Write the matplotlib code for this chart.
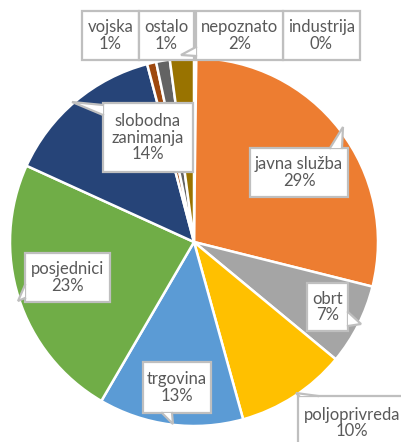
import matplotlib
matplotlib.use("Agg")
import matplotlib.pyplot as plt
from matplotlib.patches import Rectangle, Polygon
from matplotlib.lines import Line2D

categories = ["industrija", "javna služba", "obrt", "poljoprivreda", "trgovina",
              "posjednici", "slobodna\nzanimanja", "vojska", "ostalo", "nepoznato"]
values = [0.2, 28.7, 7.1, 9.7, 12.7, 23.4, 14.1, 0.8, 1.2, 2.1]
colors = ["#4472C4", "#ED7D31", "#A5A5A5", "#FFC000", "#5B9BD5",
          "#70AD47", "#264478", "#9E480E", "#636363", "#997300"]

W, H = 401, 442
fig = plt.figure(figsize=(W / 100, H / 100), dpi=100)
ax = fig.add_axes([0, 0, 1, 1])

cx, cy, r = 194, 242, 184
# y axis inverted below: start at top, go clockwise
ax.pie(values, colors=colors, center=(cx, cy), radius=r,
       startangle=-90, counterclock=True, frame=True,
       wedgeprops=dict(edgecolor="white", linewidth=1.8))
ax.set_xlim(0, W)
ax.set_ylim(H, 0)
ax.set_aspect("equal")
ax.axis("off")

# callout layout: box (x0, y0, x1, y1), pointer (base1, base2, tip)
layout = {
    "industrija": ((283, 11, 360, 60), None),
    "javna služba": ((250, 148, 348, 197), ((330, 148), (342, 148), (343, 127))),
    "obrt": ((307, 283, 348, 331), ((348, 312), (348, 326), (361, 324))),
    "poljoprivreda": ((298, 396, 420, 460), ((299, 396), (318, 396), (296, 393))),
    "trgovina": ((143, 362, 211, 413), ((162, 413), (172, 413), (173, 424))),
    "posjednici": ((25, 253, 110, 302), ((25, 285), (25, 298), (18, 301))),
    "slobodna\nzanimanja": ((103, 103, 193, 172), ((103, 105), (103, 115), (72, 102))),
    "vojska": ((82, 11, 139, 60), None),
    "ostalo": ((139, 11, 194, 60), None),
    "nepoznato": ((196, 11, 283, 60), ((196, 47), (196, 56), (181, 55))),
}
text_centers = {
    "poljoprivreda": (352, 423),
}

tc = "#595959"
ec = "#BFBFBF"
lw = 1.6
for cat, val in zip(categories, values):
    (x0, y0, x1, y1), ptr = layout[cat]
    ax.add_patch(Rectangle((x0, y0), x1 - x0, y1 - y0, fc="white", ec=ec,
                           lw=lw, zorder=5, clip_on=False))
    if ptr is not None:
        b1, b2, tip = ptr
        ax.add_patch(Polygon([b1, tip, b2], closed=True, fc="white", ec="none",
                             zorder=6, clip_on=False))
        ax.add_line(Line2D([b1[0], tip[0], b2[0]], [b1[1], tip[1], b2[1]],
                           color=ec, lw=lw, zorder=6, solid_joinstyle="miter"))
    tx, ty = text_centers.get(cat, ((x0 + x1) / 2, (y0 + y1) / 2))
    label = f"{cat}\n{round(val):d}%"
    ax.text(tx, ty, label, ha="center", va="center", fontsize=12,
            family="Lato", color=tc, linespacing=1.05, zorder=7)

fig.savefig("out.png", dpi=100)
